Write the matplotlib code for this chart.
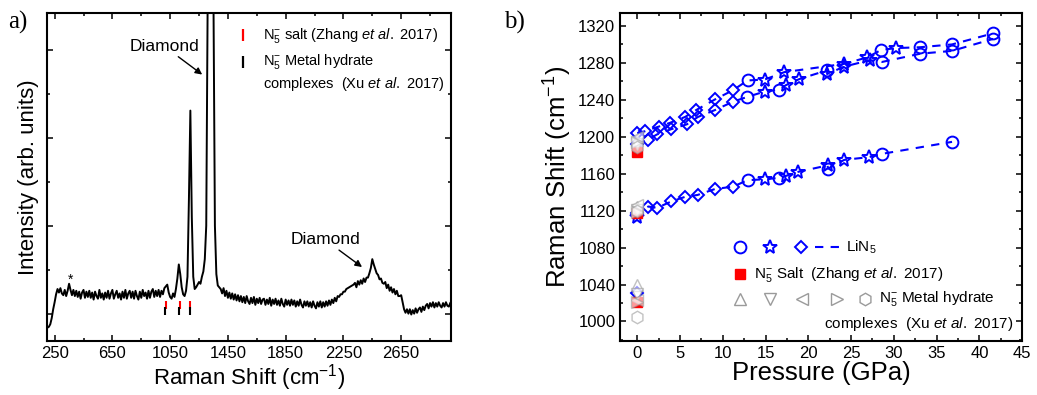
import numpy as np
import matplotlib
matplotlib.use('Agg')
import matplotlib.pyplot as plt
from matplotlib.ticker import MultipleLocator, NullFormatter

plt.rcParams['font.family'] = ['Liberation Sans', 'DejaVu Sans']
plt.rcParams['mathtext.fontset'] = 'custom'
plt.rcParams['mathtext.rm'] = 'Liberation Sans'
plt.rcParams['mathtext.it'] = 'Liberation Sans:italic'

# ---- panel a: Raman spectrum (10 cm-1 steps from 200) ----
shift = np.arange(200, 3000, 10)
intensity = [
    -0.16, -0.15, -0.12, -0.05, 0.05, 0.13, 0.22, 0.28, 0.24, 0.29,
    0.23, 0.21, 0.27, 0.20, 0.26, 0.34, 0.27, 0.21, 0.27, 0.20,
    0.26, 0.19, 0.25, 0.17, 0.24, 0.27, 0.18, 0.25, 0.19, 0.26,
    0.18, 0.24, 0.16, 0.25, 0.20, 0.17, 0.27, 0.18, 0.23, 0.16,
    0.24, 0.18, 0.26, 0.17, 0.23, 0.27, 0.17, 0.22, 0.26, 0.18,
    0.23, 0.16, 0.25, 0.18, 0.27, 0.17, 0.23, 0.26, 0.18, 0.25,
    0.17, 0.26, 0.20, 0.16, 0.25, 0.18, 0.27, 0.20, 0.24, 0.17,
    0.26, 0.18, 0.25, 0.28, 0.19, 0.26, 0.20, 0.27, 0.19, 0.26,
    0.22, 0.29, 0.31, 0.33, 0.24, 0.19, 0.17, 0.23, 0.19, 0.28,
    0.40, 0.56, 0.45, 0.30, 0.22, 0.20, 0.26, 0.42, 1.30, 2.31,
    1.10, 0.42, 0.28, 0.30, 0.33, 0.36, 0.34, 0.42, 0.48, 0.62,
    1.00, 3.60, 7.00, 9.00, 7.00, 3.60, 1.00, 0.45, 0.32, 0.30,
    0.28, 0.23, 0.29, 0.20, 0.26, 0.18, 0.24, 0.17, 0.23, 0.16,
    0.22, 0.15, 0.21, 0.14, 0.20, 0.13, 0.19, 0.12, 0.20, 0.14,
    0.11, 0.18, 0.12, 0.19, 0.10, 0.17, 0.12, 0.18, 0.11, 0.16,
    0.17, 0.10, 0.16, 0.11, 0.18, 0.09, 0.16, 0.11, 0.17, 0.10,
    0.15, 0.09, 0.17, 0.11, 0.08, 0.16, 0.10, 0.15, 0.09, 0.16,
    0.10, 0.15, 0.08, 0.14, 0.09, 0.16, 0.10, 0.07, 0.14, 0.09,
    0.14, 0.08, 0.13, 0.07, 0.14, 0.09, 0.06, 0.13, 0.08, 0.14,
    0.07, 0.13, 0.08, 0.14, 0.09, 0.15, 0.10, 0.16, 0.12, 0.18,
    0.14, 0.20, 0.19, 0.22, 0.22, 0.25, 0.25, 0.28, 0.29, 0.30,
    0.31, 0.32, 0.33, 0.35, 0.30, 0.37, 0.33, 0.38, 0.34, 0.40,
    0.36, 0.41, 0.41, 0.46, 0.52, 0.62, 0.56, 0.51, 0.46, 0.44,
    0.39, 0.40, 0.35, 0.34, 0.36, 0.29, 0.33, 0.26, 0.30, 0.24,
    0.28, 0.22, 0.26, 0.20, 0.20, 0.21, 0.13, 0.05, 0.01, 0.05,
    0.00, 0.05, -0.01, 0.04, 0.00, 0.06, 0.01, 0.05, 0.07, 0.02,
    0.08, 0.04, 0.09, 0.11, 0.06, 0.12, 0.08, 0.13, 0.07, 0.12,
    0.08, 0.13, 0.09, 0.07, 0.12, 0.08, 0.13, 0.09, 0.08, 0.12,
]
salt_lines = [1022, 1115, 1185]       # N5- salt (Zhang 2017)
hydrate_lines = [1017, 1108, 1190]    # N5- metal hydrate complexes (Xu 2017)

# ---- panel b: Raman shift vs pressure ----
circ_p_hi = [12.9, 28.5, 33.1, 36.8, 41.6]
circ_w_hi = [1261, 1294, 1297, 1300, 1312]
circ_p_mid = [12.8, 16.6, 22.2, 28.6, 33.1, 36.8, 41.6]
circ_w_mid = [1243, 1251, 1272, 1281, 1290, 1293, 1306]
circ_p_lo = [12.9, 16.6, 22.3, 28.6, 36.8]
circ_w_lo = [1153, 1155.5, 1165.5, 1181.5, 1194.5]

star_p_hi = [14.9, 17.2, 24.2, 26.9, 30.2]
star_w_hi = [1262, 1270, 1279, 1286, 1296]
star_p_mid = [14.9, 17.4, 18.95, 22.2, 24.2, 27.2]
star_w_mid = [1249, 1256, 1262.5, 1268, 1276, 1283]
star_p_lo = [0, 14.9, 17.4, 18.8, 22.25, 24.2, 27.1]
star_w_lo = [1113, 1154, 1157.7, 1162, 1169, 1175, 1178]

diam_p_hi = [0, 0.9, 2.5, 3.8, 5.6, 6.9, 9.1, 11.2]
diam_w_hi = [1204, 1206, 1211, 1215, 1221.5, 1229, 1240.5, 1250.5]
diam_p_mid = [0, 1.3, 2.3, 3.9, 5.8, 7.1, 9.1, 11.2]
diam_w_mid = [1192, 1197, 1202.5, 1208, 1213.5, 1221.5, 1229, 1238]
diam_p_lo = [0, 1.3, 2.3, 4.0, 5.6, 7.05, 9.1, 11.2]
diam_w_lo = [1117, 1124.5, 1123, 1130, 1135, 1137, 1143.5, 1146]
diam_p_extra = [0]
diam_w_extra = [1031]

salt_w = [1183, 1117, 1021]
hyd_up = [1039, 1124, 1197]
hyd_down = [1030, 1121, 1192]
hyd_left = [1023, 1126, 1200]
hyd_right = [1021, 1119, 1194]
hyd_hex = [1005, 1120, 1189]

blue = '#0000ff'
red = '#ff0000'
grey = '#9a9a9a'

fig = plt.figure(figsize=(10.37, 3.95), dpi=100)

# ================= panel a =================
ax1 = fig.add_axes([0.0453, 0.137, 0.3896, 0.830])
ax1.plot(shift, intensity, color='k', lw=1.4)
ax1.vlines(salt_lines, 0.05, 0.14, color=red, lw=1.5)
ax1.vlines(hydrate_lines, -0.01, 0.08, color='k', lw=1.5)
ax1.set_xlim(197, 2995)
ax1.set_ylim(-0.31, 3.42)
ax1.xaxis.set_major_locator(MultipleLocator(400, offset=250))
ax1.xaxis.set_minor_locator(MultipleLocator(200, offset=50))
ax1.yaxis.set_major_locator(MultipleLocator(1))
ax1.yaxis.set_minor_locator(MultipleLocator(0.5))
ax1.yaxis.set_major_formatter(NullFormatter())
ax1.set_xlabel('Raman Shift (cm$^{-1}$)', fontsize=16, labelpad=1)
ax1.set_ylabel('Intensity (arb. units)', fontsize=16, labelpad=2)

ax1.annotate('Diamond', xy=(1272, 2.72), xytext=(1011, 3.04), ha='center', va='center',
             fontsize=12.5, arrowprops=dict(arrowstyle='-|>', color='k', lw=1,
                                            mutation_scale=10, shrinkA=0, shrinkB=0))
ax1.annotate('Diamond', xy=(2379, 0.53), xytext=(2123, 0.84), ha='center', va='center',
             fontsize=12.5, arrowprops=dict(arrowstyle='-|>', color='k', lw=1,
                                            mutation_scale=10, shrinkA=0, shrinkB=0))
ax1.text(359, 0.30, '*', ha='center', va='bottom', fontsize=10)

# legend a
ax1.plot([0.485], [0.933], marker='|', color=red, ms=9, mew=1.6, transform=ax1.transAxes)
ax1.plot([0.485], [0.851], marker='|', color='k', ms=9, mew=1.6, transform=ax1.transAxes)
ax1.text(0.535, 0.933, r'N$_5^{-}$ salt (Zhang $\it{et\ al.}$ 2017)', transform=ax1.transAxes,
         va='center', fontsize=10.5)
ax1.text(0.535, 0.851, r'N$_5^{-}$ Metal hydrate', transform=ax1.transAxes,
         va='center', fontsize=10.5)
ax1.text(0.535, 0.784, r'complexes  (Xu $\it{et\ al.}$ 2017)', transform=ax1.transAxes,
         va='center', fontsize=10.5)

# ================= panel b =================
ax2 = fig.add_axes([0.598, 0.137, 0.3877, 0.830])

branches = [
    (circ_p_hi + star_p_hi + diam_p_hi, circ_w_hi + star_w_hi + diam_w_hi),
    (circ_p_mid + star_p_mid + diam_p_mid, circ_w_mid + star_w_mid + diam_w_mid),
    (circ_p_lo + star_p_lo + diam_p_lo, circ_w_lo + star_w_lo + diam_w_lo),
]
for p, w in branches:
    order = np.argsort(p)
    ax2.plot(np.array(p)[order], np.array(w)[order], color=blue, lw=1.5, ls=(0, (4, 3.5)))

mk = dict(color=blue, ls='none', mfc='none', mew=1.4)
ax2.plot(circ_p_hi, circ_w_hi, marker='o', ms=8.5, **mk)
ax2.plot(circ_p_mid, circ_w_mid, marker='o', ms=8.5, **mk)
ax2.plot(circ_p_lo, circ_w_lo, marker='o', ms=8.5, **mk)
ax2.plot(star_p_hi, star_w_hi, marker='*', ms=10.5, **mk)
ax2.plot(star_p_mid, star_w_mid, marker='*', ms=10.5, **mk)
ax2.plot(star_p_lo, star_w_lo, marker='*', ms=10.5, **mk)
ax2.plot(diam_p_hi, diam_w_hi, marker='D', ms=6.5, **mk)
ax2.plot(diam_p_mid, diam_w_mid, marker='D', ms=6.5, **mk)
ax2.plot(diam_p_lo, diam_w_lo, marker='D', ms=6.5, **mk)
ax2.plot(diam_p_extra, diam_w_extra, marker='D', ms=6.5, **mk)

ax2.plot([0] * len(salt_w), salt_w, marker='s', ms=7, color=red, ls='none')

hk = dict(ls='none', mfc='white', mec=grey, mew=1.0, alpha=0.6)
ax2.plot([0] * 3, hyd_up, marker='^', ms=9, **hk)
ax2.plot([0] * 3, hyd_down, marker='v', ms=9, **hk)
ax2.plot([0] * 3, hyd_left, marker='<', ms=9, **hk)
ax2.plot([0] * 3, hyd_right, marker='>', ms=9, **hk)
ax2.plot([0] * 3, hyd_hex, marker='h', ms=9, **hk)

ax2.set_xlim(-2, 45)
ax2.set_ylim(979, 1334)
ax2.xaxis.set_major_locator(MultipleLocator(5))
ax2.xaxis.set_minor_locator(MultipleLocator(2.5))
ax2.yaxis.set_major_locator(MultipleLocator(40))
ax2.yaxis.set_minor_locator(MultipleLocator(20))
ax2.set_xlabel('Pressure (GPa)', fontsize=18.5, labelpad=0)
ax2.set_ylabel('Raman Shift (cm$^{-1}$)', fontsize=18.5, labelpad=3)

# legend b
ta = ax2.transAxes
ax2.plot([0.297], [0.285], marker='o', ms=8.5, transform=ta, **mk)
ax2.plot([0.373], [0.285], marker='*', ms=10.5, transform=ta, **mk)
ax2.plot([0.450], [0.285], marker='D', ms=6.5, transform=ta, **mk)
ax2.plot([0.485, 0.551], [0.285, 0.285], color=blue, lw=1.5, ls=(0, (4, 3.5)), transform=ta)
ax2.text(0.562, 0.285, 'LiN$_5$', transform=ta, va='center', fontsize=11)
ax2.plot([0.297], [0.204], marker='s', ms=7, color=red, transform=ta)
ax2.text(0.334, 0.204, r'N$_5^{-}$ Salt  (Zhang $\it{et\ al.}$ 2017)', transform=ta,
         va='center', fontsize=11)
hk_leg = dict(ls='none', mfc='white', mec=grey, mew=1.0, ms=9, transform=ta)
for fx, m in zip([0.297, 0.373, 0.452, 0.539, 0.610], ['^', 'v', '<', '>', 'h']):
    ax2.plot([fx], [0.128], marker=m, **hk_leg)
ax2.text(0.645, 0.128, r'N$_5^{-}$ Metal hydrate', transform=ta, va='center', fontsize=11)
ax2.text(0.978, 0.052, r'complexes  (Xu $\it{et\ al.}$ 2017)', transform=ta, va='center',
         ha='right', fontsize=11)

for ax in (ax1, ax2):
    for s in ax.spines.values():
        s.set_linewidth(1.5)
    ax.tick_params(which='both', direction='in', top=True, right=True, width=1.1,
                   labelsize=12)
    ax.tick_params(which='major', length=4.5)
    ax.tick_params(which='minor', length=2.5)

fig.text(0.008, 0.942, 'a)', family='Liberation Serif', fontsize=18, va='center')
fig.text(0.486, 0.942, 'b)', family='Liberation Serif', fontsize=18, va='center')

fig.savefig('out.png', dpi=100)
